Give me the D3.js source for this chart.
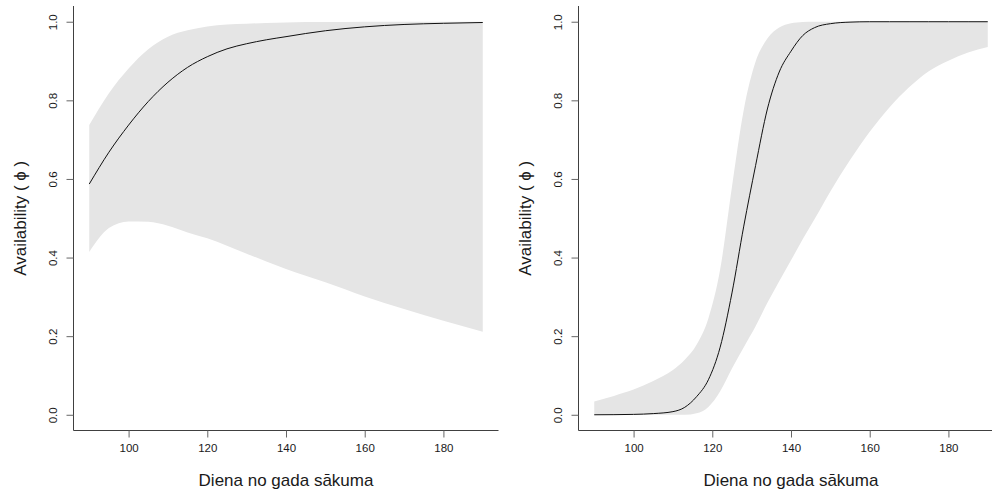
<!DOCTYPE html>
<html>
<head>
<meta charset="utf-8">
<script src="https://cdn.jsdelivr.net/npm/d3@7"></script>
<style>
  html, body { margin: 0; padding: 0; background: #fff; }
  svg { display: block; }
  text { font-family: "Liberation Sans", Arial, sans-serif; fill: #1a1a1a; }
</style>
</head>
<body>
<svg id="chart" width="992" height="492"></svg>
<script>
// ---- Data ----
const xTicks = [100, 120, 140, 160, 180];
const yTicks = [0, 0.2, 0.4, 0.6, 0.8, 1.0];
const yTickLabels = ["0.0", "0.2", "0.4", "0.6", "0.8", "1.0"];
const xTitle = "Diena no gada sākuma";
const yTitle = "Availability ( \u03D5 )";

const leftDays  = [90, 95, 100, 105, 110, 115, 120, 125, 130, 135, 140, 145, 150, 160, 170, 180, 190];
const leftMean  = [0.587, 0.668, 0.737, 0.797, 0.846, 0.884, 0.911, 0.931, 0.944, 0.954, 0.962, 0.970, 0.977, 0.987, 0.993, 0.996, 0.998];
const leftLower = [0.414, 0.475, 0.492, 0.491, 0.481, 0.464, 0.449, 0.430, 0.410, 0.390, 0.371, 0.354, 0.337, 0.301, 0.269, 0.239, 0.211];
const leftUpper = [0.737, 0.818, 0.881, 0.930, 0.962, 0.978, 0.988, 0.993, 0.995, 0.997, 0.998, 0.999, 0.999, 1.0, 1.0, 1.0, 1.0];

const rightDays  = [90, 95, 100, 105, 110, 113, 116, 119, 122, 125, 128, 131, 134, 137, 140, 143, 146, 150, 155, 160, 165, 170, 175, 180, 185, 190];
const rightMean  = [0.0, 0.0003, 0.001, 0.003, 0.008, 0.019, 0.046, 0.089, 0.172, 0.31, 0.48, 0.634, 0.778, 0.872, 0.925, 0.965, 0.985, 0.995, 0.999, 1.0, 1.0, 1.0, 1.0, 1.0, 1.0, 1.0];
const rightLower = [0.0, 0.0, 0.0, 0.0, 0.0, 0.0, 0.004, 0.02, 0.06, 0.118, 0.172, 0.225, 0.285, 0.34, 0.393, 0.447, 0.498, 0.568, 0.648, 0.72, 0.782, 0.833, 0.874, 0.901, 0.922, 0.936];
const rightUpper = [0.034, 0.048, 0.064, 0.086, 0.114, 0.14, 0.178, 0.245, 0.37, 0.58, 0.776, 0.898, 0.957, 0.985, 0.996, 0.999, 1.0, 1.0, 1.0, 1.0, 1.0, 1.0, 1.0, 1.0, 1.0, 1.0];

// ---- Layout ----
const svg = d3.select("#chart");
const panels = [
  { x0: 73.5,  x1: 498.5,  days: leftDays,  mean: leftMean,  lower: leftLower,  upper: leftUpper },
  { x0: 578.5, x1: 1003.5, days: rightDays, mean: rightMean, lower: rightLower, upper: rightUpper }
];
const yTop = 6, yBot = 430.5;

panels.forEach(p => {
  const x = d3.scaleLinear().domain([86, 194]).range([p.x0, p.x1]);
  const y = d3.scaleLinear().domain([-0.04, 1.04]).range([yBot, yTop]);
  const g = svg.append("g");

  const pts = p.days.map((d, i) => ({ d, m: p.mean[i], lo: p.lower[i], hi: p.upper[i] }));

  const area = d3.area()
    .x(d => x(d.d)).y0(d => y(d.lo)).y1(d => y(d.hi))
    .curve(d3.curveMonotoneX);
  g.append("path").datum(pts).attr("d", area)
    .attr("fill", "#e5e5e5").attr("stroke", "none");

  const line = d3.line().x(d => x(d.d)).y(d => y(d.m)).curve(d3.curveMonotoneX);
  g.append("path").datum(pts).attr("d", line)
    .attr("fill", "none").attr("stroke", "#111").attr("stroke-width", 1);

  // L-shaped box
  g.append("path")
    .attr("d", `M${p.x0},${yTop}V${yBot}H${p.x1}`)
    .attr("fill", "none").attr("stroke", "#404040").attr("stroke-width", 1);

  // bottom axis ticks
  const xa = d3.axisBottom(x).tickValues(xTicks).tickSize(7).tickSizeOuter(0).tickPadding(6).tickFormat(d3.format("d"));
  const gx = g.append("g").attr("transform", `translate(0,${yBot})`).call(xa);
  gx.select(".domain").remove();
  gx.selectAll(".tick line").attr("stroke", "#666");
  gx.selectAll(".tick text").attr("font-size", 11.5).attr("font-family", "Liberation Sans, Arial, sans-serif").attr("fill", "#1a1a1a");

  // left axis ticks (rotated labels)
  const ya = d3.axisLeft(y).tickValues(yTicks).tickSize(7).tickSizeOuter(0)
    .tickFormat((d, i) => yTickLabels[i]);
  const gy = g.append("g").attr("transform", `translate(${p.x0},0)`).call(ya);
  gy.select(".domain").remove();
  gy.selectAll(".tick line").attr("stroke", "#666");
  gy.selectAll(".tick text")
    .attr("x", null).attr("dy", null)
    .attr("font-size", 11.5).attr("font-family", "Liberation Sans, Arial, sans-serif").attr("fill", "#1a1a1a")
    .attr("text-anchor", "middle")
    .attr("transform", "translate(-21,0) rotate(-90)")
    .attr("dy", "0.35em");

  // titles
  const cx = (p.x0 + p.x1) / 2;
  g.append("text").attr("x", cx).attr("y", 480).attr("dy", "0.35em")
    .attr("text-anchor", "middle").attr("font-size", 17).text(xTitle);
  g.append("text")
    .attr("transform", `translate(${p.x0 - 53},${(yTop + yBot) / 2}) rotate(-90)`)
    .attr("dy", "0.35em").attr("text-anchor", "middle").attr("font-size", 17).text(yTitle);
});
</script>
</body>
</html>
